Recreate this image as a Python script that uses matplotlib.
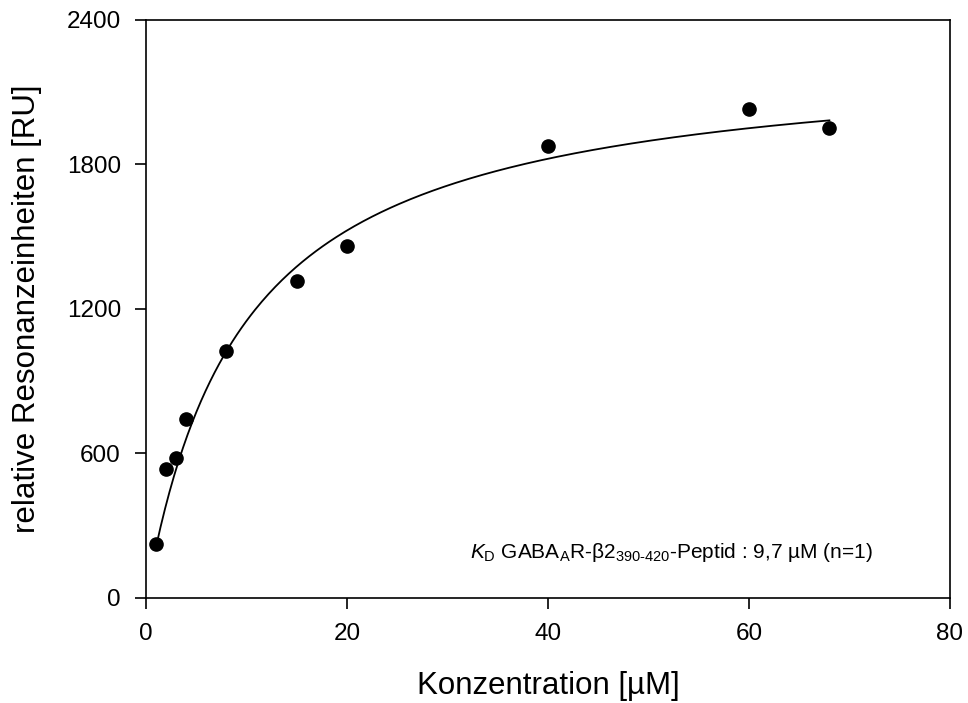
import numpy as np
import matplotlib
matplotlib.use('Agg')
import matplotlib.pyplot as plt

plt.rcParams['font.family'] = ['Liberation Sans', 'DejaVu Sans']
plt.rcParams['mathtext.fontset'] = 'custom'
plt.rcParams['mathtext.rm'] = 'Liberation Sans'
plt.rcParams['mathtext.it'] = 'Liberation Sans:italic'

# measured binding data
conc = [1, 2, 3, 4, 8, 15, 20, 40, 60, 68]
ru = [224, 536, 581, 743, 1026, 1316, 1462, 1877, 2030, 1952]

# one-site binding fit parameters
kd = 9.7
bmax = 2266

fig = plt.figure(figsize=(9.68, 7.03), dpi=100)
ax = fig.add_axes([0.1508, 0.1494, 0.8306, 0.8222])

xfit = np.linspace(min(conc), max(conc), 300)
ax.plot(xfit, bmax * xfit / (kd + xfit), color='black', lw=1.3)
ax.plot(conc, ru, 'o', color='black', markersize=9.5)

ax.set_xlim(0, 80)
ax.set_ylim(0, 2400)
ax.set_xticks([0, 20, 40, 60, 80])
ax.set_yticks([0, 600, 1200, 1800, 2400])
ax.tick_params(direction='out', length=8, width=1.2, labelsize=17.5, pad=10,
               top=False, right=False)
for sp in ax.spines.values():
    sp.set_linewidth(1.2)

ax.set_xlabel('Konzentration [µM]', fontsize=22.5, labelpad=19)
ax.set_ylabel('relative Resonanzeinheiten [RU]', fontsize=22.5, labelpad=18)

ax.text(72.3, 187, r'$K_{\mathrm{D}}$ GABA$_{\mathrm{A}}$R-β2$_{\mathrm{390‐420}}$-Peptid : 9,7 µM (n=1)',
        fontsize=15, ha='right', va='center')

fig.savefig('out.png', dpi=100)
